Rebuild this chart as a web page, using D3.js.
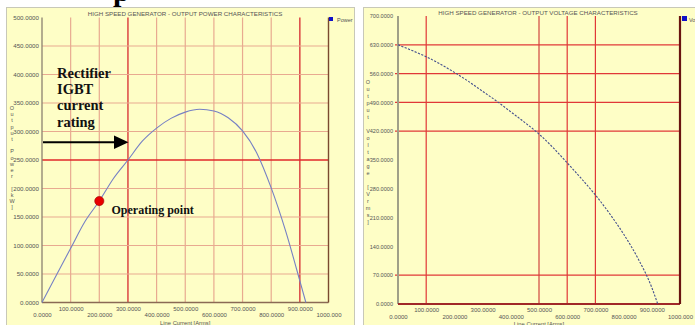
<!DOCTYPE html>
<html>
<head>
<meta charset="utf-8">
<script src="https://cdn.jsdelivr.net/npm/d3@7"></script>
<style>
  html, body { margin: 0; padding: 0; background: #ffffff; }
  svg { display: block; }
  .tick text { font-family: "Liberation Sans", Arial, sans-serif; }
</style>
</head>
<body>
<svg id="chart" width="695" height="325"></svg>
<script>
// ---- Data ----
const currentTicks = [0, 100, 200, 300, 400, 500, 600, 700, 800, 900, 1000];
const powerTicks = [0, 50, 100, 150, 200, 250, 300, 350, 400, 450, 500];
const voltageTicks = [0, 70, 140, 210, 280, 350, 420, 490, 560, 630, 700];

// Output power vs line current
const powerCurrent = [0, 50, 100, 150, 200, 250, 300, 350, 400, 450, 500, 550, 600, 650, 700, 750, 800, 850, 900, 921];
const powerKW      = [0, 48, 95, 142, 178, 218, 250, 283, 306, 323, 334, 339, 336, 324, 301, 262, 201, 126, 38, 0];

// Output voltage vs line current
const voltCurrent = [0, 50, 100, 150, 200, 250, 300, 350, 400, 450, 500, 550, 600, 650, 700, 750, 800, 850, 900, 921];
const voltageV    = [630, 616, 601, 583, 563, 541, 517, 493, 467, 441, 413, 380, 343, 305, 265, 220, 170, 112, 40, 0];

// Operating point on the power curve
const operatingCurrent = 200;
const operatingPower = 178;

// Grid lines shown on each chart
const powerGridX = [100, 200, 300, 400, 500, 600, 700, 800, 900];
const powerGridXStrong = [300, 900];
const powerGridY = [50, 100, 150, 200, 250, 300, 350, 400, 450];
const powerGridYStrong = [250];
const voltGridX = [100, 500, 600, 700];
const voltGridY = [70, 420, 490, 560, 630];

const svg = d3.select("#chart");
const labelFont = '"Liberation Sans", Arial, sans-serif';
const panelFill = "#fefec6";

function fmt(v) { return v >= 1000 ? v.toFixed(3) : v.toFixed(4); }

// ---- Panels ----
svg.append("rect").attr("x", 6.5).attr("y", 7.5).attr("width", 348).attr("height", 320)
  .attr("fill", panelFill).attr("stroke", "#c8c8b8");
svg.append("rect").attr("x", 363.5).attr("y", 7.5).attr("width", 340).attr("height", 320)
  .attr("fill", panelFill).attr("stroke", "#c8c8b8");

// caption fragment above the panels (only its descender reaches the page)
svg.append("text").attr("x", 113).attr("y", 1)
  .attr("font-family", '"Liberation Serif", serif').attr("font-weight", "bold")
  .attr("font-size", 30).attr("fill", "#000").text("p");

function verticalTitle(g, text, x, yStart, step) {
  g.append("g").selectAll("text").data(text.split("")).join("text")
    .attr("x", x).attr("y", (d, i) => yStart + i * step)
    .attr("text-anchor", "middle")
    .attr("font-family", labelFont).attr("font-size", 5.5).attr("fill", "#555")
    .text(d => d);
}

function bottomAxis(g, x, y0, ticks) {
  const ax = g.append("g").attr("transform", `translate(0,${y0})`)
    .call(d3.axisBottom(x).tickValues(ticks).tickSize(0).tickFormat(fmt));
  ax.select(".domain").remove();
  ax.selectAll(".tick text")
    .attr("font-size", 6).attr("fill", "#555")
    .attr("dy", null)
    .attr("y", (d, i) => (i % 2 === 1 ? 8 : 14.5));
  return ax;
}

function leftAxis(g, y, x0, ticks, size) {
  const ax = g.append("g").attr("transform", `translate(${x0},0)`)
    .call(d3.axisLeft(y).tickValues(ticks).tickSize(0).tickPadding(3).tickFormat(fmt));
  ax.select(".domain").remove();
  ax.selectAll(".tick text").attr("font-size", size).attr("fill", "#555");
  return ax;
}

// ================= Left chart: output power =================
{
  const g = svg.append("g");
  const x = d3.scaleLinear().domain([0, 1000]).range([42, 328.5]);
  const y = d3.scaleLinear().domain([0, 500]).range([302.5, 17.5]);

  g.append("g").selectAll("line").data(powerGridX).join("line")
    .attr("x1", d => x(d)).attr("x2", d => x(d))
    .attr("y1", y(500)).attr("y2", y(0))
    .attr("stroke", d => powerGridXStrong.includes(d) ? "#d8383a" : "#e8aa90")
    .attr("stroke-width", d => powerGridXStrong.includes(d) ? 1.4 : 1.2);
  g.append("g").selectAll("line").data(powerGridY).join("line")
    .attr("x1", x(0)).attr("x2", x(1000))
    .attr("y1", d => y(d)).attr("y2", d => y(d))
    .attr("stroke", d => powerGridYStrong.includes(d) ? "#e0282a" : "#e8aa90")
    .attr("stroke-width", d => powerGridYStrong.includes(d) ? 1.3 : 1.2);

  // axes frame
  g.append("line").attr("x1", x(0)).attr("x2", x(0)).attr("y1", y(500)).attr("y2", y(0))
    .attr("stroke", "#8a8070").attr("stroke-width", 1.3);
  g.append("line").attr("x1", x(0)).attr("x2", x(1000)).attr("y1", y(0)).attr("y2", y(0))
    .attr("stroke", "#8a6a55").attr("stroke-width", 1.4);
  g.append("line").attr("x1", x(1000)).attr("x2", x(1000)).attr("y1", y(500)).attr("y2", y(0))
    .attr("stroke", "#7a4a30").attr("stroke-width", 1.4);

  leftAxis(g, y, x(0), powerTicks, 6.2);
  bottomAxis(g, x, y(0), currentTicks);

  g.append("text").attr("x", (x(0) + x(1000)) / 2).attr("y", 324.5).attr("text-anchor", "middle")
    .attr("font-family", labelFont).attr("font-size", 5.8).attr("fill", "#555")
    .text("Line Current [Arms]");
  g.append("text").attr("x", 185).attr("y", 15.5).attr("text-anchor", "middle")
    .attr("font-family", labelFont).attr("font-size", 6.2).attr("fill", "#555")
    .text("HIGH SPEED GENERATOR - OUTPUT POWER CHARACTERISTICS");
  verticalTitle(g, "Output Power [kW]", 12, 110, 6.2);

  // legend
  g.append("rect").attr("x", 329).attr("y", 17).attr("width", 4).attr("height", 4).attr("fill", "#1010c8");
  g.append("text").attr("x", 337).attr("y", 21.5)
    .attr("font-family", labelFont).attr("font-size", 5.5).attr("fill", "#555").text("Power");

  const line = d3.line().x(d => x(d[0])).y(d => y(d[1])).curve(d3.curveMonotoneX);
  g.append("path").datum(powerCurrent.map((c, i) => [c, powerKW[i]]))
    .attr("d", line).attr("fill", "none")
    .attr("stroke", "#7680c4").attr("stroke-width", 1.1);

  // operating point
  g.append("circle").attr("cx", x(operatingCurrent)).attr("cy", y(operatingPower)).attr("r", 4.6)
    .attr("fill", "#e80000").attr("stroke", "#a00000").attr("stroke-width", 0.6);
  g.append("text").attr("x", 111.5).attr("y", 213.5)
    .attr("font-family", '"Liberation Serif", "Times New Roman", serif').attr("font-weight", "bold")
    .attr("font-size", 12).attr("fill", "#111").text("Operating point");

  // rating annotation with arrow
  const rating = ["Rectifier", "IGBT", "current", "rating"];
  g.append("g").selectAll("text").data(rating).join("text")
    .attr("x", 57).attr("y", (d, i) => 78 + i * 16.2)
    .attr("font-family", '"Liberation Serif", "Times New Roman", serif').attr("font-weight", "bold")
    .attr("font-size", 14.5).attr("fill", "#111").text(d => d);
  g.append("line").attr("x1", 43).attr("x2", 116).attr("y1", 142.3).attr("y2", 142.3)
    .attr("stroke", "#000").attr("stroke-width", 2);
  g.append("path").attr("d", "M114,135.5 L128.5,142.3 L114,149.1 Z").attr("fill", "#000");
}

// ================= Right chart: output voltage =================
{
  const g = svg.append("g");
  const x = d3.scaleLinear().domain([0, 1000]).range([398, 680]);
  const y = d3.scaleLinear().domain([0, 700]).range([304, 16]);

  g.append("g").selectAll("line").data(voltGridX).join("line")
    .attr("x1", d => x(d)).attr("x2", d => x(d))
    .attr("y1", y(700)).attr("y2", y(0))
    .attr("stroke", d => d === 500 ? "#d86a5a" : "#e03838").attr("stroke-width", d => d === 500 ? 1.5 : 1.2);
  g.append("g").selectAll("line").data(voltGridY).join("line")
    .attr("x1", x(0) - 3).attr("x2", x(1000))
    .attr("y1", d => y(d)).attr("y2", d => y(d))
    .attr("stroke", "#e03838").attr("stroke-width", 1.2);

  g.append("line").attr("x1", x(0)).attr("x2", x(0)).attr("y1", y(700)).attr("y2", y(0))
    .attr("stroke", "#a0a088").attr("stroke-width", 2);
  g.append("line").attr("x1", x(0)).attr("x2", x(1000)).attr("y1", y(0)).attr("y2", y(0))
    .attr("stroke", "#a02828").attr("stroke-width", 2);
  g.append("line").attr("x1", x(1000)).attr("x2", x(1000)).attr("y1", y(700)).attr("y2", y(0))
    .attr("stroke", "#6a1410").attr("stroke-width", 2.2);

  leftAxis(g, y, x(0) - 2, voltageTicks, 5.6);
  bottomAxis(g, x, y(0), currentTicks);

  g.append("text").attr("x", (x(0) + x(1000)) / 2).attr("y", 325.5).attr("text-anchor", "middle")
    .attr("font-family", labelFont).attr("font-size", 5.8).attr("fill", "#555")
    .text("Line Current [Arms]");
  g.append("text").attr("x", 538).attr("y", 15).attr("text-anchor", "middle")
    .attr("font-family", labelFont).attr("font-size", 6.2).attr("fill", "#555")
    .text("HIGH SPEED GENERATOR - OUTPUT VOLTAGE CHARACTERISTICS");
  verticalTitle(g, "Output Voltage [Vrms]", 368, 84, 7);

  g.append("rect").attr("x", 682).attr("y", 16).attr("width", 5).attr("height", 5).attr("fill", "#1010c8");
  g.append("text").attr("x", 689).attr("y", 21.5)
    .attr("font-family", labelFont).attr("font-size", 5.5).attr("fill", "#555").text("Voltage");

  const line = d3.line().x(d => x(d[0])).y(d => y(d[1])).curve(d3.curveMonotoneX);
  g.append("path").datum(voltCurrent.map((c, i) => [c, voltageV[i]]))
    .attr("d", line).attr("fill", "none")
    .attr("stroke", "#44508e").attr("stroke-width", 1.1).attr("stroke-dasharray", "2.2,1.4");
}
</script>
</body>
</html>
